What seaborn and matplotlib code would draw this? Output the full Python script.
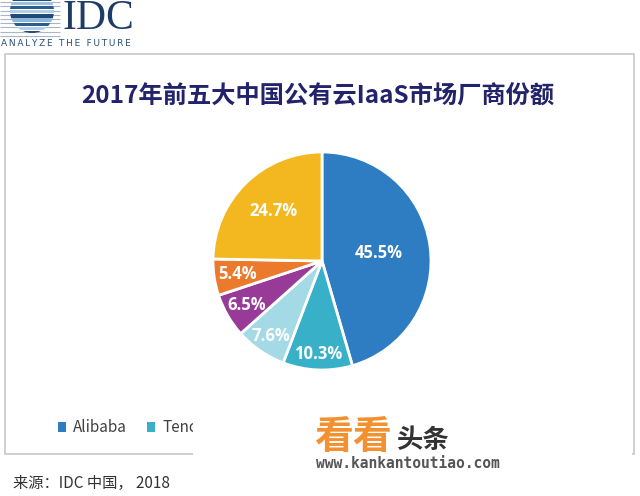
import matplotlib
matplotlib.use('Agg')
import matplotlib.pyplot as plt
import seaborn as sns
import numpy as np
from matplotlib.patches import Rectangle, Circle, Patch

# ---- data ----
vendors = ['Alibaba', 'Tencent', 'China Telecom', 'Kingsoft', 'UCloud', 'Others']
shares = [45.5, 10.3, 7.6, 6.5, 5.4, 24.7]
colors = ['#2e7cc1', '#38b0c8', '#a3dae5', '#983b98', '#ec7a2c', '#f3b71f']
title = '2017年前五大中国公有云IaaS市场厂商份额'
source = '来源：IDC 中国， 2018'
label_radius = [0.53, 0.85, 0.83, 0.80, 0.78, 0.64]

sns.set_theme(style='white')
plt.rcParams['font.family'] = ['Noto Sans CJK SC', 'DejaVu Sans']
palette = sns.color_palette(colors)

W, H = 640, 496
fig = plt.figure(figsize=(6.4, 4.96), dpi=100)
fig.patch.set_facecolor('white')

# decoration layer in pixel coordinates
deco = fig.add_axes([0, 0, 1, 1], zorder=0)
deco.set_xlim(0, W); deco.set_ylim(H, 0); deco.axis('off')

# frame box
deco.add_patch(Rectangle((5, 54), 629, 400, fill=False, ec='#c8c8c8', lw=1.2))

# IDC logo
for yy in np.arange(-2, 36, 4.2):
    deco.plot([0, 60], [yy, yy], color='#a9b6c6', lw=0.8, solid_capstyle='butt')
globe = Circle((32, 11), 22, transform=deco.transData)
band_cols = ['#1f4b78', '#7fa9cf', '#1f4b78', '#9cc0de', '#2b5d8e', '#b5d0e6',
             '#1f4b78', '#8fb5d8', '#2b5d8e', '#b5d0e6']
for k, y0 in enumerate(np.arange(-11, 34, 4.2)):
    r = Rectangle((8, y0), 48, 3.4, fc=band_cols[k % len(band_cols)], ec='none', zorder=3)
    deco.add_patch(r)
    r.set_clip_path(globe)
deco.text(62, 29, 'IDC', fontsize=30, family='Liberation Serif', color='#1d3d66',
          va='baseline', ha='left')
deco.text(1, 46, '\u2009'.join('ANALYZE THE FUTURE'), fontsize=6.5, family='DejaVu Sans',
          color='#2a4f7a', va='baseline', ha='left')

# title
deco.text(318, 95, title, ha='center', va='center', fontsize=17.5,
          fontweight='bold', color='#22236b')

# footer
deco.text(13, 483, source, fontsize=11, color='#333333', va='center', ha='left')

# pie
cx, cy, rad = 322, 261, 109
ax = fig.add_axes([(cx - rad) / W, 1 - (cy + rad) / H, 2 * rad / W, 2 * rad / H], zorder=1)
wedges, texts, autotexts = ax.pie(
    shares, colors=palette, startangle=90, counterclock=False,
    autopct='%.1f%%', wedgeprops=dict(edgecolor='white', linewidth=2),
    textprops=dict(color='white', fontsize=12, fontweight='bold', family='Open Sans'))
ax.set_xlim(-1, 1); ax.set_ylim(-1, 1)
for w, t, d in zip(wedges, autotexts, label_radius):
    mid = np.deg2rad((w.theta1 + w.theta2) / 2)
    t.set_position((d * np.cos(mid), d * np.sin(mid)))

# legend
handles = [Patch(facecolor=c, edgecolor='none') for c in palette]
fig.legend(handles, vendors, loc='center left', bbox_to_anchor=(44 / W, 1 - 428 / H),
           ncol=6, frameon=False, handlelength=0.55, handleheight=0.55,
           handletextpad=0.45, columnspacing=1.3, fontsize=11, labelcolor='#404040')

# watermark layer
top = fig.add_axes([0, 0, 1, 1], zorder=10)
top.patch.set_alpha(0)
top.set_xlim(0, W); top.set_ylim(H, 0); top.axis('off')
top.add_patch(Rectangle((193, 413), 439, 83, fc='white', ec='none'))
top.text(314, 438, '看看', fontsize=28, fontweight='bold', color='#f3902f', va='center', ha='left')
top.text(396, 440, '头条', fontsize=19, fontweight='bold', color='#333333', va='center', ha='left')
top.text(316, 463, 'www.kankantoutiao.com', family='DejaVu Sans Mono', fontweight='bold',
         fontsize=10.5, color='#555555', va='center', ha='left')

fig.savefig('out.png', dpi=100, facecolor='white')
